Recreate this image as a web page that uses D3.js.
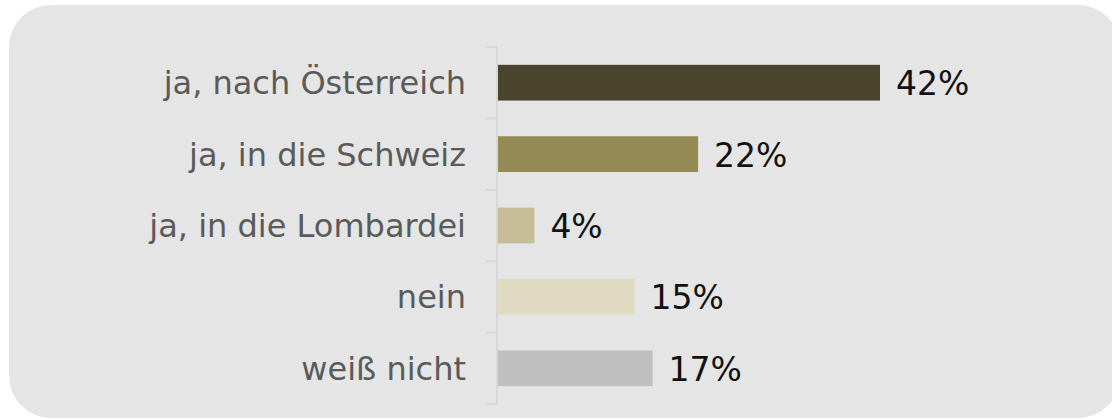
<!DOCTYPE html>
<html>
<head>
<meta charset="utf-8">
<script src="https://cdn.jsdelivr.net/npm/d3@7"></script>
<style>
  html, body { margin: 0; padding: 0; background: #ffffff; }
  svg { display: block; }
</style>
</head>
<body>
<svg id="chart" width="1112" height="419"></svg>
<script>
// Answers and their shares (percent)
const categories = ["ja, nach Österreich", "ja, in die Schweiz", "ja, in die Lombardei", "nein", "weiß nicht"];
const values = [42, 22, 4, 15, 17];
const valueLabels = ["42%", "22%", "4%", "15%", "17%"];
const barColors = ["#4a442d", "#948a53", "#c6bc98", "#e0dac2", "#bfbfbf"];

const svg = d3.select("#chart");
const W = 1112, H = 419;

// Rounded panel behind the chart (runs slightly past the right edge)
svg.append("rect")
  .attr("x", 9).attr("y", 5)
  .attr("width", W - 1).attr("height", H - 6)
  .attr("rx", 42).attr("ry", 42)
  .attr("fill", "#e4e5e4");

const axisX = 497;
const y = d3.scaleBand()
  .domain(categories)
  .range([47, 404])
  .paddingInner(0.5)
  .paddingOuter(0.25);

const x = d3.scaleLinear()
  .domain([0, 42])
  .range([axisX + 1, 880]);

// Category axis: vertical rule with ticks at the band boundaries
const axisG = svg.append("g");
axisG.append("line")
  .attr("x1", axisX).attr("x2", axisX)
  .attr("y1", y.range()[0]).attr("y2", y.range()[1])
  .attr("stroke", "#d6d7d6").attr("stroke-width", 2);

const half = y.step() * y.paddingInner() / 2;
const bounds = categories.map(c => y(c) - half).concat([y(categories[categories.length - 1]) + y.bandwidth() + half]);
axisG.selectAll("line.tick")
  .data(bounds)
  .join("line")
  .attr("class", "tick")
  .attr("x1", axisX - 11).attr("x2", axisX)
  .attr("y1", d => d).attr("y2", d => d)
  .attr("stroke", "#d6d7d6").attr("stroke-width", 2);

// Category labels
svg.append("g").selectAll("text")
  .data(categories)
  .join("text")
  .attr("x", axisX - 31)
  .attr("y", d => y(d) + y.bandwidth() / 2)
  .attr("dy", "0.36em")
  .attr("text-anchor", "end")
  .attr("font-family", "DejaVu Sans, Verdana, sans-serif")
  .attr("font-size", 32)
  .attr("fill", "#5a5a5a")
  .text(d => d);

// Bars
svg.append("g").selectAll("rect")
  .data(values)
  .join("rect")
  .attr("x", x(0))
  .attr("y", (d, i) => y(categories[i]))
  .attr("width", d => x(d) - x(0))
  .attr("height", y.bandwidth())
  .attr("fill", (d, i) => barColors[i]);

// Value labels
svg.append("g").selectAll("text")
  .data(values)
  .join("text")
  .attr("x", d => x(d) + 16)
  .attr("y", (d, i) => y(categories[i]) + y.bandwidth() / 2)
  .attr("dy", "0.38em")
  .attr("font-family", "DejaVu Sans, Verdana, sans-serif")
  .attr("font-size", 33)
  .attr("fill", "#111111")
  .text((d, i) => valueLabels[i]);
</script>
</body>
</html>
